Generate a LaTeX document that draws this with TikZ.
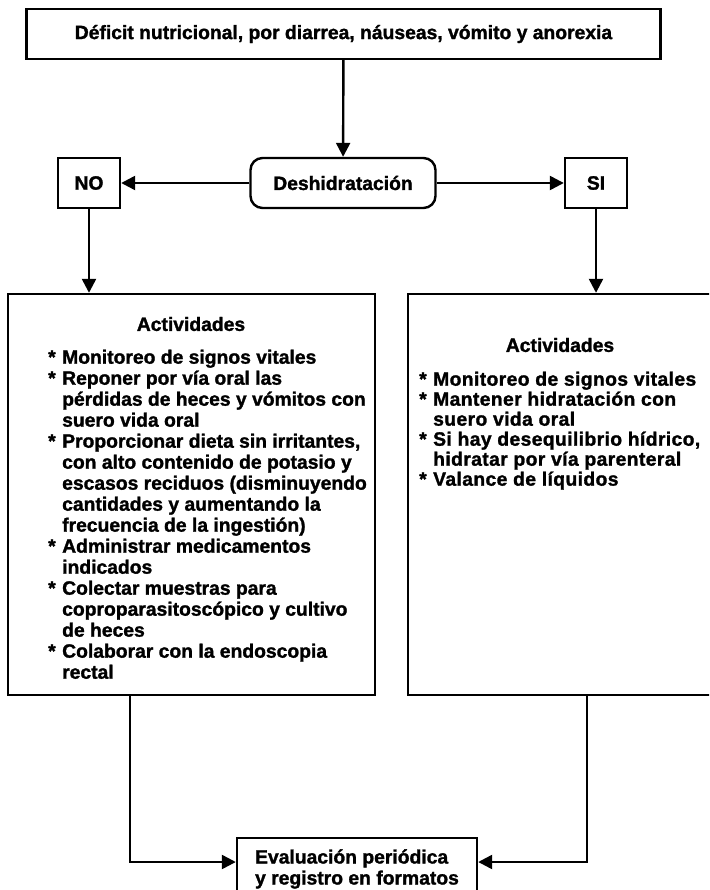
\documentclass[tikz,border=0pt]{standalone}
\usepackage{fontspec}
\setmainfont{Liberation Sans}[BoldFeatures={FakeBold=1.4}]
\newfontfamily\widefont{Liberation Sans}[LetterSpace=2, BoldFeatures={FakeBold=1.4}]
\usetikzlibrary{arrows.meta}
% bullet and hanging indent for the activity lists
\newcommand\itemmark{\makebox[14pt][l]{*}}
\newcommand\contindent{\hspace*{14pt}}
\begin{document}
\begin{tikzpicture}[x=1pt,y=-1pt,
  box/.style={draw, line width=2.4pt, inner sep=0pt},
  conn/.style={line width=2.4pt, -{Triangle[length=14pt,width=14pt]}},
  txt/.style={font=\bfseries\fontsize{19.3}{21}\selectfont, inner sep=0pt},
  txtr/.style={font=\widefont\bfseries\fontsize{19.3}{20}\selectfont, inner sep=0pt},
]
\useasboundingbox (0,0) rectangle (709,890);
\fill[white] (0,0) rectangle (709,890);
\clip (0,0) rectangle (709,890);

% boxes
\node[box, txt, minimum width=634pt, minimum height=50pt] (top) at (343.5,34)
  {Déficit nutricional, por diarrea, náuseas, vómito y anorexia};
\node[box, txt, rounded corners=12pt, minimum width=185pt, minimum height=50pt] (desh) at (343,183)
  {Deshidratación};
\node[box, txt, minimum width=62pt, minimum height=50pt] (no) at (89,183) {NO};
\node[box, txt, minimum width=62pt, minimum height=50pt] (si) at (596,183) {SI};
\node[box, minimum width=367pt, minimum height=401pt] (left) at (191.5,494.5) {};
\node[box, minimum width=307pt, minimum height=401pt] (right) at (561.5,494.5) {};
\node[box, txt, align=left, minimum width=240pt, minimum height=62pt] (eval) at (357,869)
  {Evaluación periódica\\y registro en formatos};

% contents of the activity boxes
\node[txt] (ltitle) at (191,324) {Actividades};
\node[txt, anchor=north west, align=left] (llist) at (48,349.5) {%
\itemmark Monitoreo de signos vitales\\
\itemmark Reponer por vía oral las\\
\contindent pérdidas de heces y vómitos con\\
\contindent suero vida oral\\
\itemmark Proporcionar dieta sin irritantes,\\
\contindent con alto contenido de potasio y\\
\contindent escasos reciduos (disminuyendo\\
\contindent cantidades y aumentando la\\
\contindent frecuencia de la ingestión)\\
\itemmark Administrar medicamentos\\
\contindent indicados\\
\itemmark Colectar muestras para\\
\contindent coproparasitoscópico y cultivo\\
\contindent de heces\\
\itemmark Colaborar con la endoscopia\\
\contindent rectal};

\node[txt] (rtitle) at (560,345) {Actividades};
\node[txtr, anchor=north west, align=left] (rlist) at (419,371.5) {%
\itemmark Monitoreo de signos vitales\\
\itemmark Mantener hidratación con\\
\contindent suero vida oral\\
\itemmark Si hay desequilibrio hídrico,\\
\contindent hidratar por vía parenteral\\
\itemmark Valance de líquidos};

% connectors
\draw[conn] (top) -- (desh);
\draw[conn] (desh) -- (no);
\draw[conn] (desh) -- (si);
\draw[conn] (no.south) -- (no.south |- left.north);
\draw[conn] (si.south) -- (si.south |- right.north);
\coordinate (ljoin) at (130,862);
\coordinate (rjoin) at (587,862);
\draw[conn] (left.south -| ljoin) -- (ljoin) -- (ljoin -| eval.west);
\draw[conn] (right.south -| rjoin) -- (rjoin) -- (rjoin -| eval.east);
\end{tikzpicture}
\end{document}
